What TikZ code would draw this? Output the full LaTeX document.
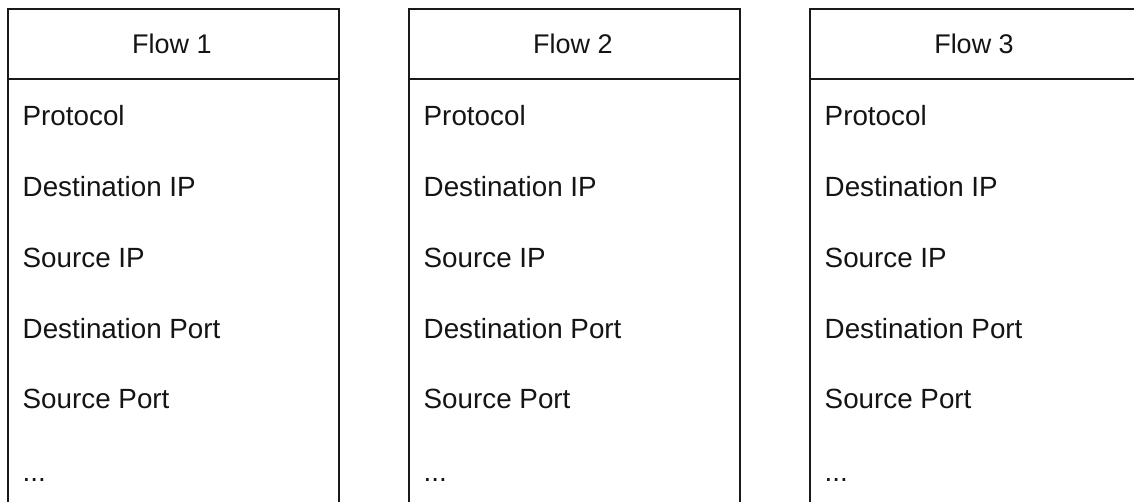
\documentclass[tikz,border=0pt]{standalone}
\usepackage{fontspec}
\setmainfont{Liberation Sans}
\begin{document}
\begin{tikzpicture}[x=1pt,y=-1pt,
  frame/.style={line width=2pt, draw=black!90},
  hdr/.style={font=\fontsize{27}{32}\selectfont, text=black!92, anchor=base, inner sep=0pt},
  fld/.style={font=\fontsize{27.8}{32}\selectfont, text=black!92, anchor=base west, inner sep=0pt}]
\useasboundingbox (0,0) rectangle (1134,501);
\clip (0,0) rectangle (1134,501);
\foreach \i/\x in {1/8, 2/409, 3/810} {
  \draw[frame] (\x,520) -- (\x,9) -- (\x+331,9) -- (\x+331,520);
  \draw[frame] (\x,79) -- (\x+331,79);
  \node[hdr] (h\i) at (\x+164,53) {Flow \i};
  \foreach \j/\y/\t in {1/125/Protocol, 2/196/Destination IP, 3/267/Source IP, 4/338/Destination Port, 5/408/Source Port} {
    \node[fld] (f\i-\j) at (\x+14.5,\y) {\t};
  }
  \node[fld] (f\i-6) at (\x+14.5,481) {.\kern0pt.\kern0pt.};
}
\end{tikzpicture}
\end{document}
